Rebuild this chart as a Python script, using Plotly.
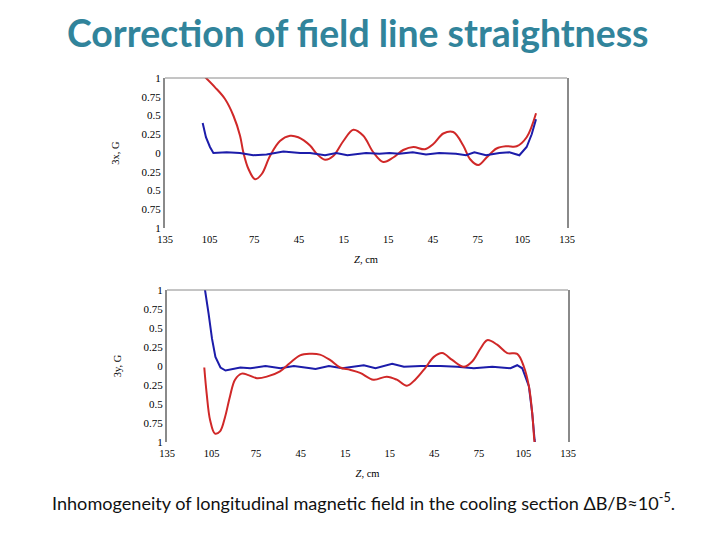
import plotly.graph_objects as go

# ---- data ----
bx_red_z = [-108, -101.4, -94.7, -89.1, -84.6, -82.4, -79, -74.5, -70, -64.5, -57.8, -51, -45.5,
            -37.6, -33.1, -27.5, -22, -15.2, -8.5, -1.8, 4.9, 11.6, 18.3, 25, 31.8, 39.6, 45.2,
            51.9, 58.6, 65.3, 69.8, 75.4, 81, 87.7, 94.5, 101.2, 107.9, 114.2]
bx_red_v = [1.01, 0.876, 0.72, 0.50, 0.23, 0.01, -0.21, -0.35, -0.28, -0.04, 0.16, 0.23, 0.21,
            0.10, -0.01, -0.09, -0.04, 0.16, 0.31, 0.23, 0.01, -0.12, -0.06, 0.04, 0.08, 0.05, 0.12,
            0.26, 0.28, 0.10, -0.08, -0.16, -0.06, 0.06, 0.09, 0.09, 0.21, 0.53]

bx_blue_z = [-109.7, -107.5, -104.8, -102.5, -93.6, -84.7, -75.7, -66.8, -55.5, -44.3, -37.6, -27.5,
             -20, -12.5, 0, 9, 15.7, 22.4, 31.4, 40.3, 49.2, 60.4, 67.2, 72.8, 80.6, 89.6, 96.3,
             103, 107.9, 111.3, 114.2]
bx_blue_v = [0.40, 0.21, 0.08, 0.0, 0.01, 0.0, -0.03, -0.02, 0.02, 0.0, 0.0, -0.03,
             0.0, -0.03, 0.0, -0.01, 0.0, -0.01, 0.01, -0.02, 0.0, -0.01, -0.03, 0.01, -0.03, 0.0, 0.01,
             -0.03, 0.08, 0.25, 0.45]

by_blue_z = [-110.5, -109.4, -107, -104.7, -102.4, -99, -95.6, -91.1, -85.6, -78.9, -68.7, -58.6, -49.6,
             -38.4, -35, -26, -17, -2.5, 5.4, 16.6, 24.5, 35.8, 49.2, 60.4, 71.6, 84, 96.3,
             100.8, 104.2, 108.7, 110.9, 112.5, 113]
by_blue_v = [1.2, 1.0, 0.69, 0.36, 0.12, -0.02, -0.06, -0.04, -0.02, -0.03, 0.0, -0.03, 0.0,
             -0.03, -0.04, 0.0, -0.03, 0.01, -0.03, 0.03, -0.01, 0.0, 0.0, -0.01, -0.03, -0.01, -0.03,
             0.01, -0.03, -0.27, -0.62, -0.97, -1.05]

by_red_z = [-109.9, -108.3, -106, -102.7, -99.3, -95.9, -92.6, -89.2, -84.7, -80.2, -74.5, -67.8,
            -58.9, -52.2, -45.4, -38.8, -32.1, -25.3, -18.5, -11.8, -5, 4, 13, 19.7, 26.5, 32.1,
            39.1, 44.7, 50.3, 57, 64.8, 70.5, 76.1, 80.6, 87.3, 94.1, 100.8, 105.3, 108.7, 110.9,
            112.3, 112.8]
by_red_v = [-0.02, -0.36, -0.71, -0.89, -0.86, -0.67, -0.40, -0.18, -0.10, -0.12, -0.16, -0.14,
            -0.07, 0.04, 0.14, 0.16, 0.15, 0.08, -0.02, -0.05, -0.09, -0.18, -0.14, -0.18, -0.26, -0.18,
            -0.02, 0.12, 0.17, 0.08, -0.01, 0.06, 0.23, 0.34, 0.28, 0.17, 0.16, -0.01, -0.27, -0.62,
            -0.97, -1.05]

x_tick_vals = [-135, -105, -75, -45, -15, 15, 45, 75, 105, 135]
x_tick_text = ["135", "105", "75", "45", "15", "15", "45", "75", "105", "135"]
y_tick_vals = [1, 0.75, 0.5, 0.25, 0, -0.25, -0.5, -0.75, -1]
y_tick_text = ["1", "0.75", "0.5", "0.25", "0", "0.25", "0.5", "0.75", "1"]

RED = "#d02828"
BLUE = "#1c1caa"
TEAL = "#31849B"
SERIF = "Liberation Serif"

# page has an 8px body margin; figure sized to fit the 720x540 window
W, H, OFF = 712, 532, 8
def px(x):
    return (x - OFF) / W
def py(y):
    return 1 - (y - OFF) / H

fig = go.Figure()
fig.add_trace(go.Scatter(x=bx_red_z, y=bx_red_v, mode="lines", line=dict(color=RED, width=2, shape="spline"),
                         xaxis="x", yaxis="y", showlegend=False))
fig.add_trace(go.Scatter(x=bx_blue_z, y=bx_blue_v, mode="lines", line=dict(color=BLUE, width=2),
                         xaxis="x", yaxis="y", showlegend=False))
fig.add_trace(go.Scatter(x=by_blue_z, y=by_blue_v, mode="lines", line=dict(color=BLUE, width=2),
                         xaxis="x2", yaxis="y2", showlegend=False))
fig.add_trace(go.Scatter(x=by_red_z, y=by_red_v, mode="lines", line=dict(color=RED, width=2, shape="spline"),
                         xaxis="x2", yaxis="y2", showlegend=False))

def xax(domain, anchor):
    return dict(domain=domain, anchor=anchor, range=[-135, 135], tickvals=x_tick_vals, ticktext=x_tick_text,
                showgrid=False, zeroline=False, showline=False, ticks="", automargin=False,
                ticklabelstandoff=3,
                tickfont=dict(family=SERIF, size=10.5, color="#000"),
                title=dict(text="<i>Z</i>, cm", font=dict(family=SERIF, size=10.5, color="#000"), standoff=12))

def yax(domain, anchor, title):
    return dict(domain=domain, anchor=anchor, range=[-1, 1], tickvals=y_tick_vals, ticktext=y_tick_text,
                showgrid=False, zeroline=False, showline=True, mirror=True, linecolor="#8a8a8a", linewidth=2,
                ticks="", automargin=False, tickfont=dict(family=SERIF, size=11, color="#000"),
                title=dict(text=title, font=dict(family=SERIF, size=10.5, color="#000"), standoff=20))

fig.update_layout(
    width=W, height=H, margin=dict(l=0, r=0, t=0, b=0, autoexpand=False),
    paper_bgcolor="white", plot_bgcolor="white",
    xaxis=xax([px(165), px(567)], "y"),
    yaxis=yax([py(228), py(78)], "x", "3x, G"),
    xaxis2=xax([px(167), px(568)], "y2"),
    yaxis2=yax([py(442), py(290)], "x2", "3y, G"),
    shapes=[
        dict(type="line", xref="x domain", yref="y domain", x0=0, x1=1, y0=1, y1=1,
             line=dict(color="#8a8a8a", width=1)),
        dict(type="line", xref="x2 domain", yref="y2 domain", x0=0, x1=1, y0=1, y1=1,
             line=dict(color="#8a8a8a", width=1)),
    ],
    annotations=[
        dict(text="<b>Correction of field line straightness</b>", xref="paper", yref="paper",
             x=px(358), y=py(33), xanchor="center", yanchor="middle", showarrow=False,
             font=dict(family="Lato", size=37.4, color=TEAL)),
        dict(text="Inhomogeneity of longitudinal magnetic field in the cooling section ΔB/B≈10<sup>-5</sup>.",
             xref="paper", yref="paper", x=px(363), y=py(501), xanchor="center", yanchor="middle",
             showarrow=False, font=dict(family="Lato", size=18.1, color="#111")),
    ],
)

fig.write_html("out.html")
